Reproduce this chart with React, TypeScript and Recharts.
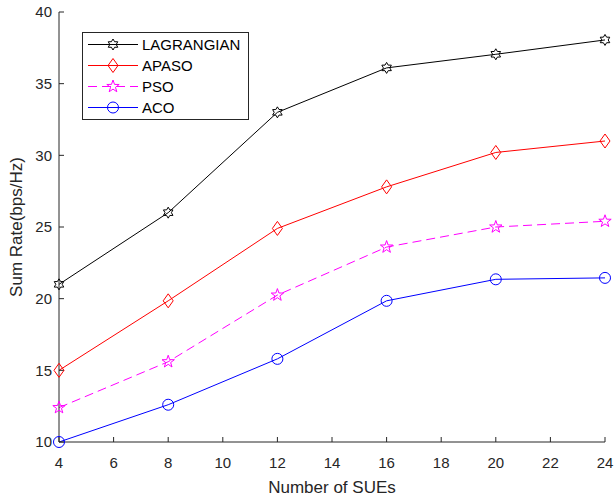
import { Legend, Line, LineChart, XAxis, YAxis } from 'recharts';

const sues = [4, 8, 12, 16, 20, 24];
const lagrangian = [21, 26, 33, 36.1, 37.05, 38.05];
const apaso = [15, 19.85, 24.9, 27.8, 30.2, 31];
const pso = [12.4, 15.6, 20.25, 23.6, 25, 25.4];
const aco = [10, 12.6, 15.8, 19.85, 21.35, 21.45];

const xTicks = [4, 6, 8, 10, 12, 14, 16, 18, 20, 22, 24];
const yTicks = [10, 15, 20, 25, 30, 35, 40];

const data = sues.map((n, i) => ({
  n,
  lagrangian: lagrangian[i],
  apaso: apaso[i],
  pso: pso[i],
  aco: aco[i],
}));

type Kind = 'hexagram' | 'diamond' | 'pentagram' | 'circle';

const series: { key: string; name: string; color: string; marker: Kind; dash?: string }[] = [
  { key: 'lagrangian', name: 'LAGRANGIAN', color: '#000000', marker: 'hexagram' },
  { key: 'apaso', name: 'APASO', color: '#ff0000', marker: 'diamond' },
  { key: 'pso', name: 'PSO', color: '#ff00ff', marker: 'pentagram', dash: '9 5' },
  { key: 'aco', name: 'ACO', color: '#0000ff', marker: 'circle' },
];

const axisColor = '#262626';
const font = '"Liberation Sans", Arial, sans-serif';

function starPath(cx: number, cy: number, points: number, outer: number, inner: number) {
  let d = '';
  for (let k = 0; k < points * 2; k++) {
    const r = k % 2 === 0 ? outer : inner;
    const a = -Math.PI / 2 + (k * Math.PI) / points;
    d += (k === 0 ? 'M' : 'L') + (cx + r * Math.cos(a)).toFixed(2) + ',' + (cy + r * Math.sin(a)).toFixed(2);
  }
  return d + 'Z';
}

function Marker({ kind, cx, cy, color }: { kind: Kind; cx: number; cy: number; color: string }) {
  const common = { fill: 'none', stroke: color, strokeWidth: 1 };
  if (kind === 'circle') return <circle cx={cx} cy={cy} r={5.5} {...common} />;
  if (kind === 'diamond')
    return <path d={`M${cx},${cy - 7}L${cx + 5},${cy}L${cx},${cy + 7}L${cx - 5},${cy}Z`} {...common} />;
  if (kind === 'hexagram') return <path d={starPath(cx, cy, 6, 5.5, 3.2)} {...common} />;
  return <path d={starPath(cx, cy, 5, 6.5, 2.6)} {...common} />;
}

function LegendBox() {
  return (
    <div
      style={{
        border: `1px solid ${axisColor}`,
        background: '#fff',
        padding: '1px 8px 1px 0',
        fontFamily: font,
        fontSize: 15,
        color: '#000',
      }}
    >
      {series.map((s) => (
        <div key={s.key} style={{ display: 'flex', alignItems: 'center', height: 21 }}>
          <svg width={59} height={21}>
            <line x1={5} y1={10.5} x2={55} y2={10.5} stroke={s.color} strokeDasharray={s.dash} />
            <Marker kind={s.marker} cx={30} cy={10.5} color={s.color} />
          </svg>
          <span>{s.name}</span>
        </div>
      ))}
    </div>
  );
}

export default function App() {
  return (
    <div style={{ position: 'absolute', left: 0, top: 0, background: '#fff' }}>
      <LineChart
        width={615}
        height={501}
        data={data}
        margin={{ top: 12, right: 10, left: 0, bottom: 0 }}
        style={{ fontFamily: font }}
      >
        <XAxis
          dataKey="n"
          type="number"
          domain={[4, 24]}
          ticks={xTicks}
          interval={0}
          height={59}
          tickSize={-5}
          tickMargin={20}
          stroke={axisColor}
          tick={{ fill: axisColor, fontSize: 15 }}
          label={{ value: 'Number of SUEs', position: 'insideBottom', offset: 8, fill: axisColor, fontSize: 17 }}
        />
        <XAxis
          xAxisId="top"
          orientation="top"
          dataKey="n"
          type="number"
          domain={[4, 24]}
          ticks={xTicks}
          interval={0}
          height={0}
          tickSize={-5}
          stroke={axisColor}
          tickFormatter={() => ''}
        />
        <YAxis
          type="number"
          domain={[10, 40]}
          ticks={yTicks}
          interval={0}
          width={59}
          tickSize={-5}
          tickMargin={12}
          stroke={axisColor}
          tick={{ fill: axisColor, fontSize: 15 }}
          label={{
            value: 'Sum Rate(bps/Hz)',
            angle: -90,
            position: 'insideLeft',
            offset: 16,
            fill: axisColor,
            fontSize: 17,
            style: { textAnchor: 'middle' },
          }}
        />
        <YAxis
          yAxisId="right"
          orientation="right"
          type="number"
          domain={[10, 40]}
          ticks={yTicks}
          interval={0}
          width={0}
          tickSize={-5}
          stroke={axisColor}
          tickFormatter={() => ''}
        />
        <Legend
          layout="horizontal"
          verticalAlign="middle"
          align="center"
          wrapperStyle={{ left: 82, top: 32, width: 'auto', height: 'auto' }}
          content={() => <LegendBox />}
        />
        {series.map((s) => (
          <Line
            key={s.key}
            type="linear"
            dataKey={s.key}
            name={s.name}
            stroke={s.color}
            strokeWidth={1}
            strokeDasharray={s.dash}
            isAnimationActive={false}
            activeDot={false}
            dot={(p: any) => <Marker key={`${s.key}-${p.index}`} kind={s.marker} cx={p.cx} cy={p.cy} color={s.color} />}
          />
        ))}
      </LineChart>
    </div>
  );
}
